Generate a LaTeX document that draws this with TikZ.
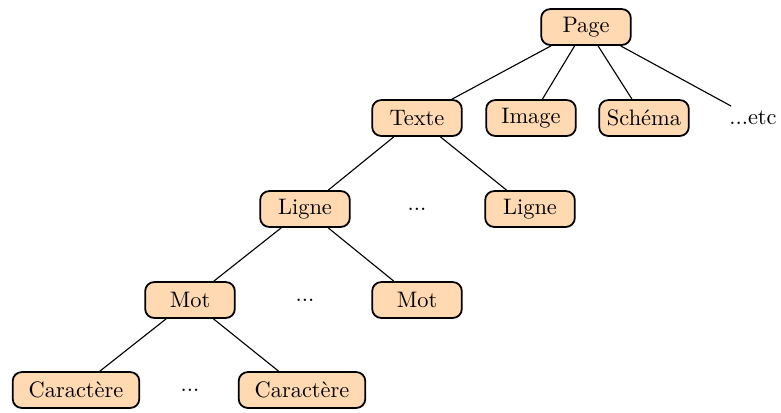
\documentclass[tikz,border=0pt]{standalone}
\usepackage{tikz}
\begin{document}
\begin{tikzpicture}[x=0.4464pt,y=-0.4464pt,
  box/.style={draw, thick, fill=orange!30, rounded corners=4pt, minimum width=40pt, minimum height=16pt, inner sep=3pt},
  widebox/.style={box, minimum width=56.5pt},
  dots/.style={inner sep=2pt},
  edge/.style={draw, line width=0.5pt}]
\useasboundingbox (0,0) rectangle (781,412);
\node[box] (page) at (586,27) {Page};
\node[box] (texte) at (417,118) {Texte};
\node[box] (image) at (531,118) {Image};
\node[box] (schema) at (644,118) {Schéma};
\node[dots] (etc) at (753,118) {...etc};
\node[box] (ligne1) at (305,209) {Ligne};
\node[dots] (d1) at (417,209) {...};
\node[box] (ligne2) at (530,209) {Ligne};
\node[box] (mot1) at (190,300) {Mot};
\node[dots] (d2) at (305,300) {...};
\node[box] (mot2) at (417,300) {Mot};
\node[widebox] (car1) at (76,390) {Caractère};
\node[dots] (d3) at (190,390) {...};
\node[widebox] (car2) at (302,390) {Caractère};
\draw[edge] (page) -- (texte);
\draw[edge] (page) -- (image);
\draw[edge] (page) -- (schema);
\draw[edge] (page) -- (etc);
\draw[edge] (texte) -- (ligne1);
\draw[edge] (texte) -- (ligne2);
\draw[edge] (ligne1) -- (mot1);
\draw[edge] (ligne1) -- (mot2);
\draw[edge] (mot1) -- (car1);
\draw[edge] (mot1) -- (car2);
\end{tikzpicture}
\end{document}
